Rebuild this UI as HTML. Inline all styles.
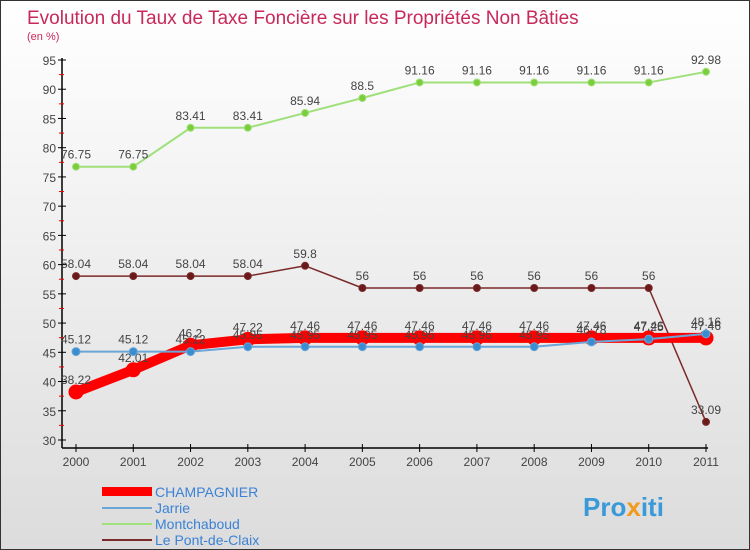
<!DOCTYPE html>
<html><head><meta charset="utf-8"><style>
body{margin:0;width:750px;height:550px;overflow:hidden;font-family:"Liberation Sans",sans-serif}
#c{position:absolute;left:0;top:0;width:748px;height:548px;border:1px solid #333;background:linear-gradient(#fff,#dcdcdc)}
</style></head><body>
<div id="c">
<svg id="s" width="750" height="550" style="position:absolute;left:-1px;top:-1px">
<text x="27" y="24" font-size="19" fill="#c8285a">Evolution du Taux de Taxe Foncière sur les Propriétés Non Bâties</text>
<text x="27" y="40" font-size="11" fill="#c8285a">(en %)</text>
<g id="g"></g>
<g font-size="14">
<rect x="102" y="487" width="50" height="9" fill="#f00"/>
<text x="155" y="497" fill="#3b82d6">CHAMPAGNIER</text>
<line x1="102" y1="508" x2="152" y2="508" stroke="#6aa6d8" stroke-width="2"/>
<text x="155" y="513" fill="#3b82d6">Jarrie</text>
<line x1="102" y1="524" x2="152" y2="524" stroke="#9fe07a" stroke-width="2"/>
<text x="155" y="529" fill="#3b82d6">Montchaboud</text>
<line x1="102" y1="540" x2="152" y2="540" stroke="#7a2a2a" stroke-width="2"/>
<text x="155" y="545" fill="#3b82d6">Le Pont-de-Claix</text>
</g>
<text x="583" y="516" font-size="26" font-weight="bold" fill="#3a9ad9">Pro<tspan fill="#f29a1e">x</tspan>iti</text>
</svg></div>
<script>
const years=[2000,2001,2002,2003,2004,2005,2006,2007,2008,2009,2010,2011];
const yTicks=[30,35,40,45,50,55,60,65,70,75,80,85,90,95];
const champagnier=[38.22,42.01,46.2,47.22,47.46,47.46,47.46,47.46,47.46,47.46,47.46,47.46];
const jarrie=[45.12,45.12,45.12,45.95,45.95,45.95,45.95,45.95,45.95,46.78,47.25,48.16];
const montchaboud=[76.75,76.75,83.41,83.41,85.94,88.5,91.16,91.16,91.16,91.16,91.16,92.98];
const pontDeClaix=[58.04,58.04,58.04,58.04,59.8,56,56,56,56,56,56,33.09];
const NS="http://www.w3.org/2000/svg",g=document.getElementById('g');
const X=i=>76+i*(630/11), Y=v=>440-(v-30)*(380/65);
function el(t,a,n){const e=document.createElementNS(NS,t);for(const k in a)e.setAttribute(k,a[k]);


g.appendChild(e);return e;}
el('line',{x1:62,y1:58,x2:62,y2:448,stroke:'#000','stroke-width':1.5},'y-axis');
el('line',{x1:62,y1:448,x2:708,y2:448,stroke:'#000','stroke-width':1.5},'x-axis');
yTicks.forEach(v=>{const y=Y(v);el('line',{x1:58,y1:y,x2:66,y2:y,stroke:'#000'},'y-tick');
if(v<95){el('line',{x1:59,y1:Y(v+2.5),x2:64,y2:Y(v+2.5),stroke:'#e00'},'y-minor-tick');}
const t=el('text',{x:56,y:y+5,'font-size':12,fill:'#444','text-anchor':'end'},'y-tick-label');t.textContent=v;});
years.forEach((yr,i)=>{el('line',{x1:X(i),y1:444,x2:X(i),y2:452,stroke:'#000'},'x-tick');
const t=el('text',{x:X(i),y:466,'font-size':12,fill:'#444','text-anchor':'middle'},'x-tick-label');t.textContent=yr;});
function series(d,col,w,r,name,fc){
el('polyline',{points:d.map((v,i)=>X(i)+','+Y(v)).join(' '),fill:'none',stroke:col,'stroke-width':w,'stroke-linejoin':'round'},name+'-line');
d.forEach((v,i)=>{el('circle',{cx:X(i),cy:Y(v),r:r,fill:fc,stroke:col},name+'-point');
const t=el('text',{x:X(i),y:Y(v)-8,'font-size':12,fill:'#444','text-anchor':'middle'},name+'-value-label');t.textContent=v;});}
series(montchaboud,'#9fe07a',2,3.5,'montchaboud','#7ccd3c');
series(pontDeClaix,'#7a2a2a',1.5,3.5,'le-pont-de-claix','#6a1a1a');
series(champagnier,'#f00',10,7,'champagnier','#f00');
series(jarrie,'#6aa6d8',2,4,'jarrie','#3a8ed0');
</script></body></html>
